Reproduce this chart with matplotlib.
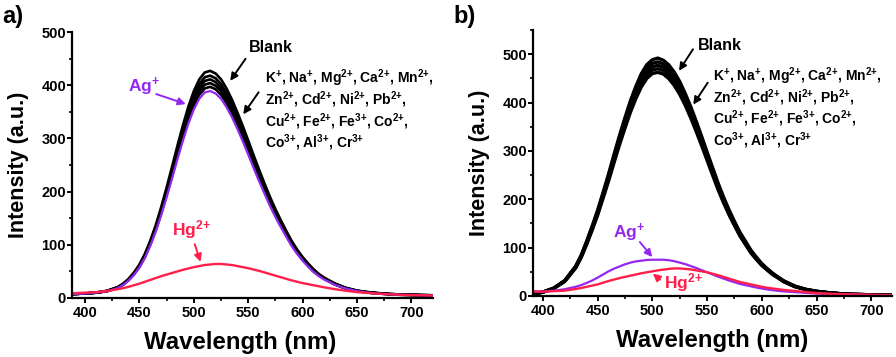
import matplotlib
matplotlib.use("Agg")
import matplotlib.pyplot as plt
from matplotlib.ticker import MultipleLocator

plt.rcParams['font.family'] = ['Liberation Sans', 'DejaVu Sans']
plt.rcParams['font.weight'] = 'bold'
plt.rcParams['mathtext.fontset'] = 'custom'
plt.rcParams['mathtext.rm'] = 'Liberation Sans:bold'
plt.rcParams['mathtext.bf'] = 'Liberation Sans:bold'
plt.rcParams['mathtext.it'] = 'Liberation Sans:bold'
plt.rcParams['mathtext.default'] = 'bf'

# ---------------- data ----------------
wavelength = [390, 400, 410, 420, 430, 435, 440, 445, 450, 455, 460, 465, 470, 475, 480,
              485, 490, 495, 500, 505, 510, 515, 520, 525, 530, 535, 540, 545, 550, 555,
              560, 565, 570, 575, 580, 585, 590, 595, 600, 605, 610, 615, 620, 630, 640,
              650, 660, 670, 680, 690, 700, 710, 720]

# panel a)
a_blank = [7.5, 8.5, 10, 13.5, 20.5, 27, 36, 48, 63, 83, 108, 137, 171, 208, 247,
           287, 325, 360, 389, 411, 424, 427, 422, 411, 394, 373, 349, 323, 296, 268,
           241, 215, 190, 167, 146, 126, 107, 91, 77, 65, 54, 45, 38, 27, 19,
           14, 11, 9, 7.5, 6.5, 6, 5.5, 5]
a_ions = [
    [7.5, 8.5, 10, 13, 20, 26.5, 35, 47, 62, 81, 106, 134, 167, 203, 242,
     281, 318, 352, 380, 402, 415, 418, 413, 402, 385, 365, 341, 316, 289, 262,
     236, 210, 186, 163, 143, 123, 105, 89, 75, 64, 53, 44, 37, 26.5, 18.5,
     13.5, 11, 9, 7.5, 6.5, 6, 5.5, 5],
    [7.5, 8.5, 10, 13, 19.5, 26, 34.5, 46, 61, 80, 104, 132, 164.5, 200, 238,
     276, 313, 346, 374, 395, 408, 411, 406, 395, 379, 359, 336, 311, 285, 258,
     232, 207, 183, 161, 140.5, 121, 103, 87.5, 74, 62.5, 52, 43, 36.5, 26, 18.5,
     13.5, 10.5, 8.5, 7.5, 6.5, 6, 5.5, 5],
    [7.5, 8.5, 10, 13, 19.5, 25.5, 34, 45.5, 59.5, 78.5, 102, 129.5, 162, 197, 234,
     271.5, 307.5, 340.5, 368, 389, 401, 404, 399, 389, 373, 353, 330, 305.5, 280, 253.5,
     228, 203.5, 180, 158, 138, 119, 101, 86, 73, 61.5, 51, 42.5, 36, 25.5, 18,
     13, 10.5, 8.5, 7, 6, 5.5, 5, 4.5],
    [7.5, 8.5, 10, 12.5, 19, 25, 33.5, 44.5, 58.5, 77, 100.5, 127.5, 159, 193.5, 229.5,
     267, 302.5, 335, 362, 382, 394, 397, 392.5, 382, 366.5, 347, 324.5, 300.5, 275.5, 249,
     224, 200, 176.5, 155.5, 136, 117, 99.5, 84.5, 71.5, 60.5, 50, 42, 35.5, 25, 17.5,
     13, 10, 8.5, 7, 6, 5.5, 5, 4.5],
]
a_ag = [7.5, 8.5, 10, 12.5, 18.5, 24.5, 33, 43.5, 57.5, 75.5, 98.5, 125, 156, 189.5, 225,
        261.5, 296, 328, 354.5, 374.5, 386.5, 389, 384.5, 374.5, 359, 340, 318, 294.5, 269.5, 244,
        219.5, 196, 173, 152, 133, 115, 97.5, 83, 70, 59, 49, 41, 34.5, 24.5, 17.5,
        13, 10, 8, 7, 6, 5.5, 5, 4.5]
a_hg = [9, 10, 11, 13, 16.5, 18.5, 21, 24, 27, 30.5, 34, 37.5, 41, 44, 47,
        50, 53, 55.5, 58, 60, 62, 63, 64, 64, 63, 62, 60, 58, 56, 53.5,
        51, 48, 45, 42, 39, 36, 33, 30.5, 28, 26, 24, 22, 20, 16.5, 13.5,
        11, 9.5, 8, 7, 6, 5.5, 5, 4.5]

# panel b)
b_blank = [4, 8, 16.5, 32, 62, 84.5, 113.5, 144.5, 177.5, 214.5, 252.5, 293, 332, 369, 404,
           434, 460, 478.5, 488.5, 492, 487.5, 478, 463, 443.5, 419, 392, 362, 330.5, 298, 266,
           234, 205, 178.5, 154.5, 132, 113.5, 95, 80.5, 67, 56.5, 47, 39, 31.5, 20.5, 14,
           10, 7, 5, 3.5, 3, 2.5, 2, 2]
b_ions = [
    [4, 8, 16, 31.5, 61, 83, 111.5, 142, 174.5, 211, 248.5, 288, 327, 363.5, 398,
     427.5, 452.5, 471, 481, 484, 480, 470.5, 455.5, 436.5, 412.5, 385.5, 356, 325.5, 293.5, 262,
     230.5, 202, 175.5, 152, 130, 111.5, 93.5, 79, 66, 56, 46, 38.5, 31, 20.5, 13.5,
     9.5, 7, 5, 3.5, 3, 2.5, 2, 2],
    [4, 8, 16, 31, 60, 82, 110, 140, 172, 208, 245, 284, 322, 358, 392,
     421, 446, 464, 474, 477, 473, 463.5, 449, 430, 406.5, 380, 351, 320.5, 289, 258,
     227, 199, 173, 150, 128, 110, 92, 78, 65, 55, 45.5, 38, 30.5, 20, 13.5,
     9.5, 7, 5, 3.5, 3, 2.5, 2, 2],
    [4, 8, 16, 30.5, 59, 81, 108.5, 138, 169.5, 205, 241.5, 280, 317, 352.5, 386,
     414.5, 439.5, 457, 467, 470, 466, 456.5, 442.5, 423.5, 400.5, 374.5, 345.5, 315.5, 284.5, 254,
     223.5, 196, 170.5, 148, 126, 108.5, 90.5, 77, 64, 54, 45, 37.5, 30, 19.5, 13.5,
     9.5, 7, 5, 3.5, 3, 2.5, 2, 2],
    [4, 8, 15.5, 30, 58, 79.5, 106.5, 136, 167, 202, 237.5, 275.5, 312.5, 347, 380,
     408.5, 432.5, 450, 460, 462.5, 459, 449.5, 435.5, 417, 394.5, 368.5, 340.5, 311, 280.5, 250,
     220, 193, 168, 145.5, 124, 106.5, 89, 75.5, 63, 53.5, 44, 37, 29.5, 19.5, 13,
     9, 7, 5, 3.5, 3, 2.5, 2, 2],
]
b_ag = [9, 9, 11, 14, 19, 22.5, 27, 32, 38, 44.5, 51, 56.5, 61, 65.5, 69,
        71.5, 73, 74.5, 75, 75, 75, 74, 72, 69, 66, 62, 58, 53.5, 49, 44.5,
        40, 36, 32, 28.5, 25, 22.5, 20, 17.5, 15.5, 13.5, 12, 10.5, 9.5, 8, 6.5,
        5, 4, 3.5, 3, 2.5, 2, 2, 2]
b_hg = [10, 9, 10, 11, 14.5, 16.5, 19, 21.5, 24, 27.5, 31, 34, 37, 39.5, 42,
        44.5, 47, 49, 51, 53, 54.5, 56, 57, 57, 56, 55, 53, 51, 49, 46,
        43, 39.5, 36, 32.5, 29, 26.5, 24, 21.5, 19, 17, 15.5, 14, 12.5, 10.5, 8,
        6, 5, 4, 3.5, 3, 2.5, 2, 2]

ion_lines = [r"K$^{+}$, Na$^{+}$, Mg$^{2{+}}$, Ca$^{2{+}}$, Mn$^{2{+}}$,",
             r"Zn$^{2{+}}$, Cd$^{2{+}}$, Ni$^{2{+}}$, Pb$^{2{+}}$,",
             r"Cu$^{2{+}}$, Fe$^{2{+}}$, Fe$^{3{+}}$, Co$^{2{+}}$,",
             r"Co$^{3{+}}$, Al$^{3{+}}$, Cr$^{3{+}}$"]

xticks = [400, 450, 500, 550, 600, 650, 700]

RED = '#ff1f4a'
PURPLE = '#9428f0'

fig = plt.figure(figsize=(8.96, 3.57), dpi=100)
axa = fig.add_axes([0.0804, 0.1653, 0.403, 0.745])
axb = fig.add_axes([0.5949, 0.1709, 0.4007, 0.745])


def style(ax, ylim, ymajor, xlim):
    ax.set_xlim(*xlim)
    ax.set_ylim(*ylim)
    ax.set_xticks(xticks)
    ax.xaxis.set_minor_locator(MultipleLocator(25))
    ax.yaxis.set_major_locator(MultipleLocator(ymajor))
    ax.yaxis.set_minor_locator(MultipleLocator(ymajor / 2))
    for s in ['top', 'right']:
        ax.spines[s].set_visible(False)
    for s in ['left', 'bottom']:
        ax.spines[s].set_linewidth(1.6)
    ax.tick_params(which='major', direction='out', length=3.5, width=1.4,
                   labelsize=10.5)
    ax.tick_params(axis='y', which='major', pad=0.8)
    ax.tick_params(axis='x', which='major', pad=2.0)
    ax.tick_params(which='minor', direction='out', length=2.2, width=1.2)
    for lab in ax.get_xticklabels() + ax.get_yticklabels():
        lab.set_fontweight('bold')
    ax.set_xlabel('Wavelength (nm)', fontsize=17.3, fontweight='bold', labelpad=8)
    ax.set_ylabel('Intensity (a.u.)', fontsize=15.5, fontweight='bold', labelpad=9)


# ---- panel a ----
for ys in a_ions:
    axa.plot(wavelength, ys, color='black', lw=1.9)
axa.plot(wavelength, a_blank, color='black', lw=1.9)
axa.plot(wavelength, a_ag, color=PURPLE, lw=1.6)
axa.plot(wavelength, a_hg, color=RED, lw=1.7)
style(axa, (0, 500), 100, (388, 720))
axa.xaxis.label.set_x(0.465)

arrow_k = dict(arrowstyle='-|>', color='black', lw=1.4, mutation_scale=11)
axa.text(571, 470, 'Blank', fontsize=11.5, fontweight='bold', ha='center', va='center')
axa.annotate('', xy=(532, 404), xytext=(549, 454), arrowprops=arrow_k)
axa.annotate('', xy=(544, 341), xytext=(561, 391), arrowprops=arrow_k)
for txt, yb in zip(ion_lines, [403.6, 363, 322.7, 282.5]):
    axa.text(565, yb, txt, fontsize=10, ha='left', va='baseline')
axa.text(439.5, 396, r'Ag$^{+}$', fontsize=12.5, color=PURPLE, ha='left', va='center')
axa.annotate('', xy=(495, 363), xytext=(463, 385),
             arrowprops=dict(arrowstyle='-|>', color=PURPLE, lw=1.4, mutation_scale=11))
axa.text(480, 128, r'Hg$^{2{+}}$', fontsize=12.5, color=RED, ha='left', va='center')
axa.annotate('', xy=(507, 63), xytext=(500, 106),
             arrowprops=dict(arrowstyle='-|>', color=RED, lw=1.4, mutation_scale=11))

# ---- panel b ----
for ys in b_ions:
    axb.plot(wavelength, ys, color='black', lw=2.4)
axb.plot(wavelength, b_blank, color='black', lw=2.4)
axb.plot(wavelength, b_ag, color=PURPLE, lw=1.6)
axb.plot(wavelength, b_hg, color=RED, lw=1.7)
style(axb, (0, 550), 100, (391, 719))

axb.text(561.5, 518, 'Blank', fontsize=11.5, fontweight='bold', ha='center', va='center')
axb.annotate('', xy=(523, 461), xytext=(538.5, 515), arrowprops=arrow_k)
axb.annotate('', xy=(536, 391), xytext=(552, 446), arrowprops=arrow_k)
for txt, yb in zip(ion_lines, [444, 401, 357, 312]):
    axb.text(555.7, yb, txt, fontsize=10, ha='left', va='baseline')
axb.text(464, 130, r'Ag$^{+}$', fontsize=12.5, color=PURPLE, ha='left', va='center')
axb.annotate('', xy=(501.5, 76), xytext=(487, 116),
             arrowprops=dict(arrowstyle='-|>', color=PURPLE, lw=1.4, mutation_scale=11))
axb.text(511, 27, r'Hg$^{2{+}}$', fontsize=12.5, color=RED, ha='left', va='center')
axb.annotate('', xy=(498.5, 50), xytext=(509, 30),
             arrowprops=dict(arrowstyle='-|>', color=RED, lw=1.4, mutation_scale=11))

fig.text(0.002, 0.985, 'a)', fontsize=17, fontweight='bold', ha='left', va='top')
fig.text(0.506, 0.985, 'b)', fontsize=17, fontweight='bold', ha='left', va='top')

fig.savefig('out.png', dpi=100)
